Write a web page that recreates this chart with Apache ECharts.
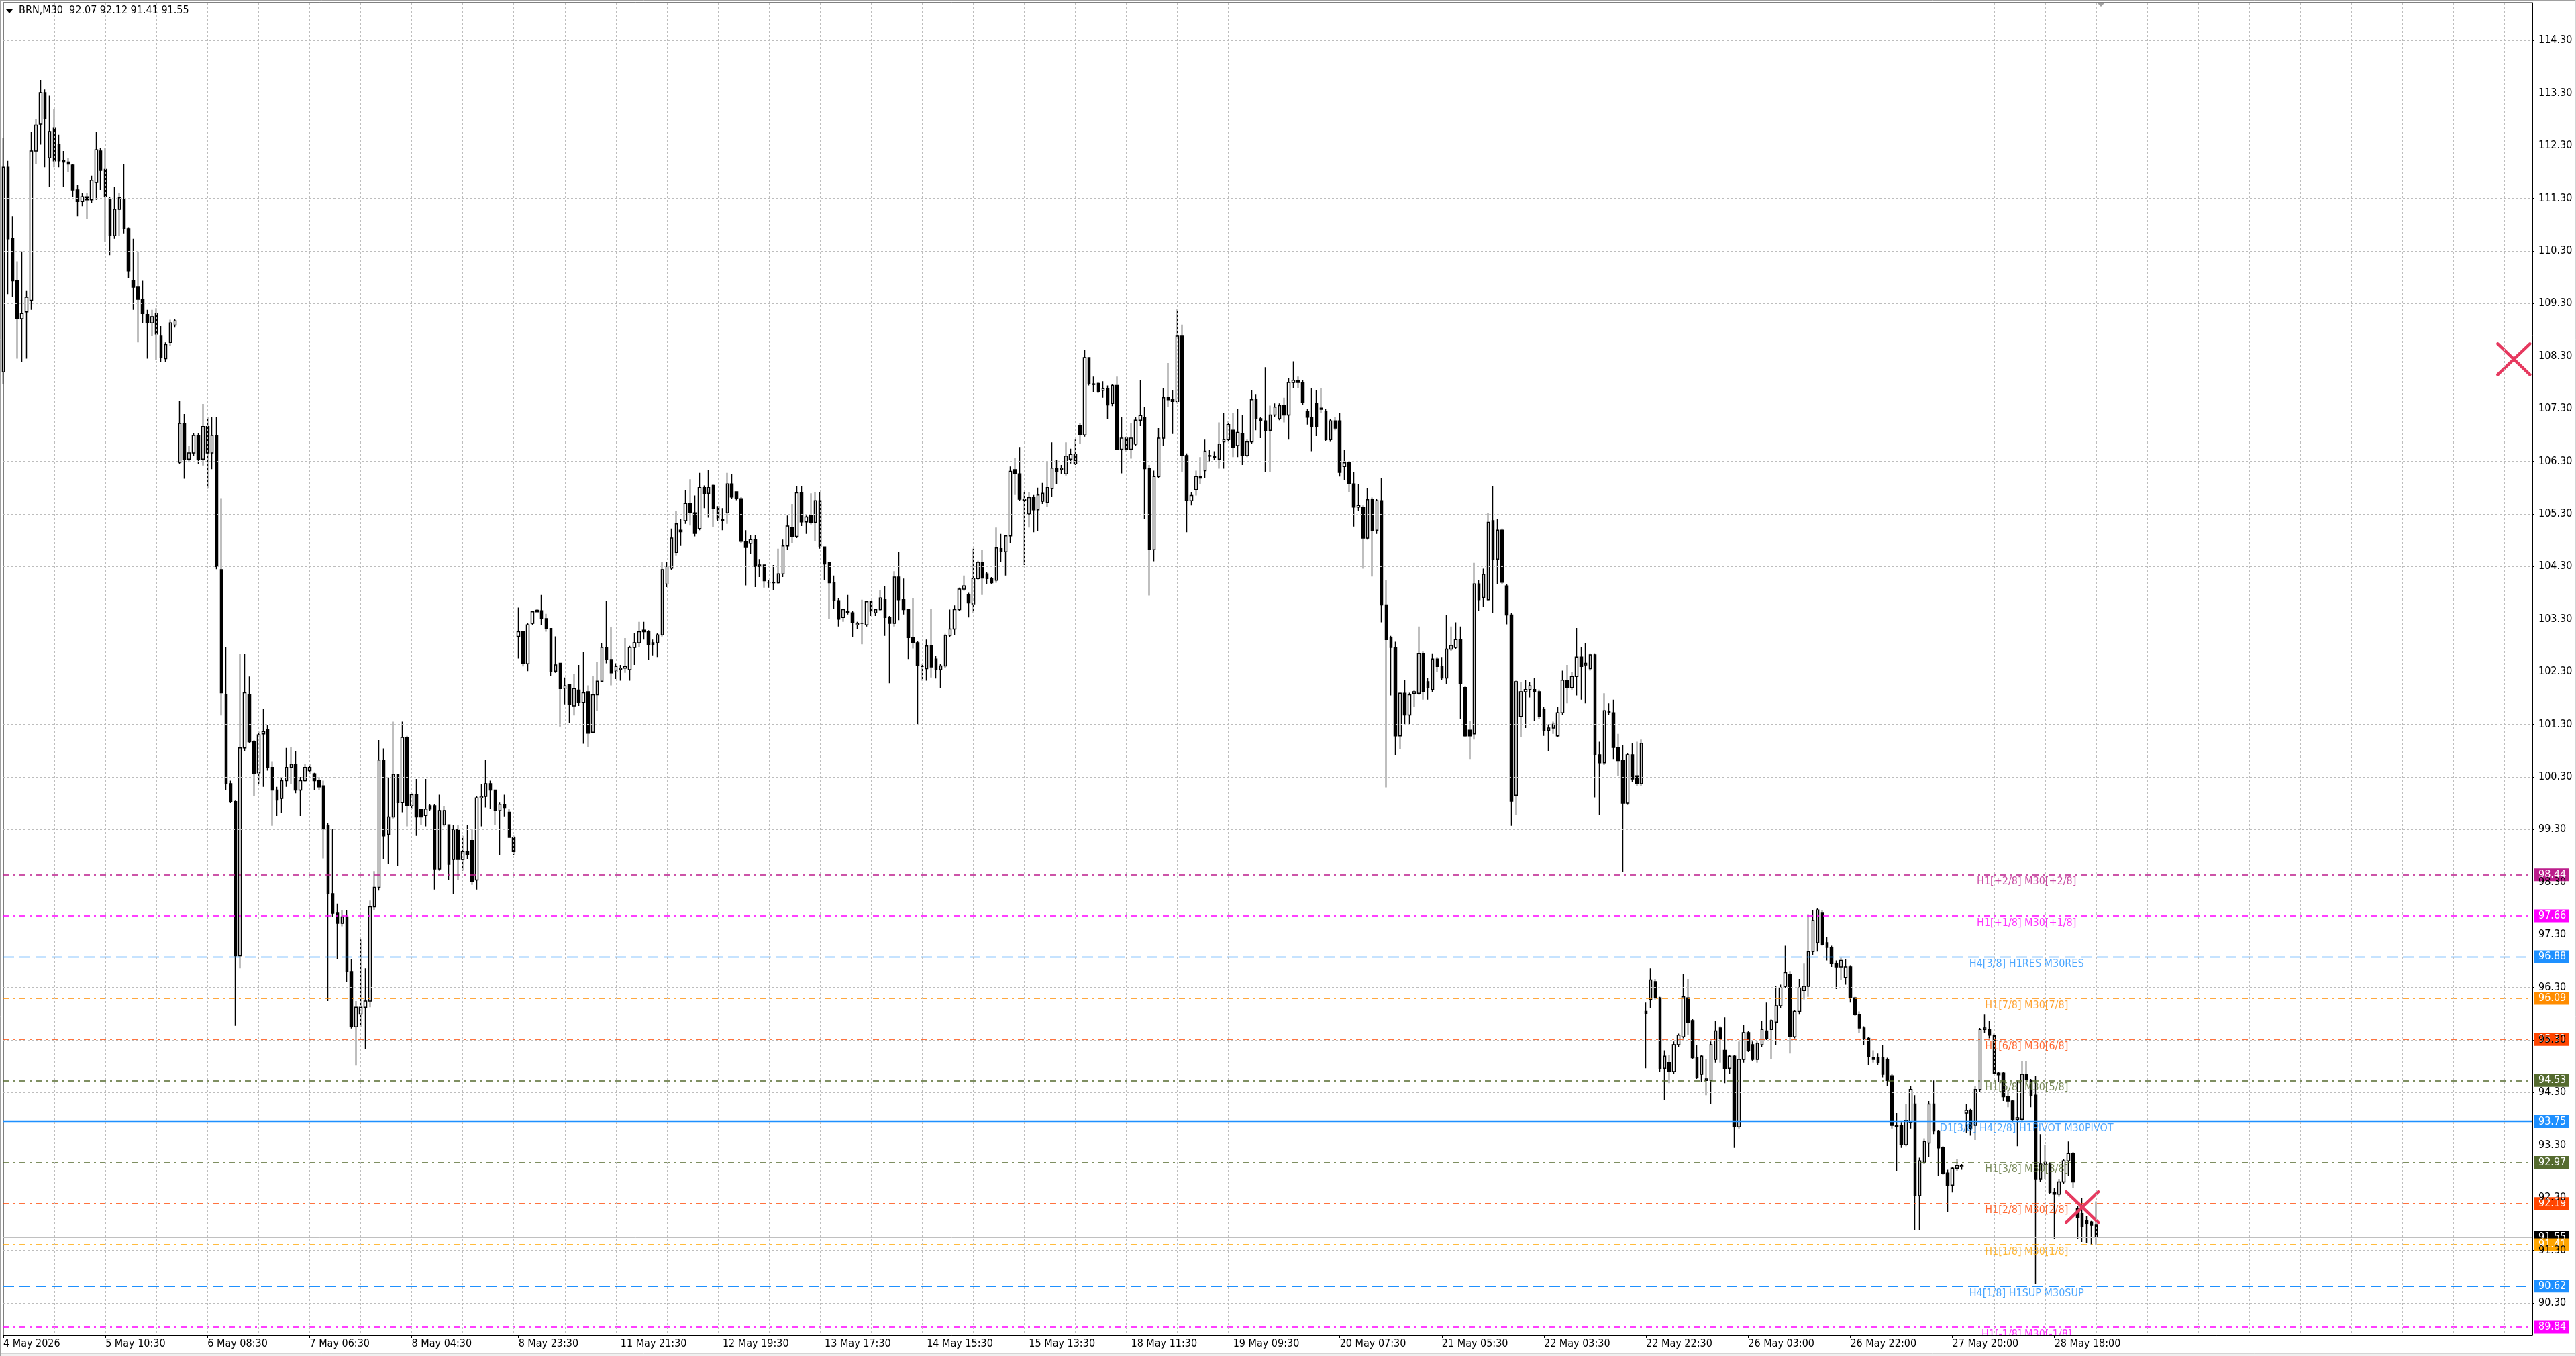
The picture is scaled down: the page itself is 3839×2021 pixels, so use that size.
<!DOCTYPE html>
<html><head><meta charset="utf-8">
<script src="https://cdn.jsdelivr.net/npm/echarts@6/dist/echarts.min.js"></script>
<style>html,body{margin:0;padding:0;background:#fff;overflow:hidden}#c{width:3839px;height:2021px}</style>
</head><body><div id="c"></div>
<script>
// ---------- data (one candle per hour) ----------
const symbolName = 'BRN,M30';
const headerOHLC = [92.07, 92.12, 91.41, 91.55];

const open = [
108.00,111.89,110.53,109.73,109.01,109.14,109.36,112.20,112.71,113.31,
112.07,112.63,112.32,112.01,111.99,111.93,111.46,111.24,111.33,111.27,
111.60,112.20,111.85,111.27,110.59,111.09,111.28,110.72,109.73,109.61,
109.38,109.09,108.93,109.11,108.68,108.25,108.56,108.89,106.28,107.02,
106.34,106.46,106.79,106.34,106.96,106.46,106.79,104.24,101.86,100.17,
99.83,96.90,100.85,101.86,100.97,100.38,101.12,101.20,100.48,100.05,
99.89,100.23,100.48,100.54,100.05,100.23,100.48,100.36,100.23,100.13,
99.37,98.08,97.71,97.52,97.64,96.60,95.55,95.79,95.92,96.04,
97.83,98.20,100.62,99.21,99.54,100.35,99.81,101.05,99.75,99.96,
99.69,99.57,99.75,99.75,98.55,99.39,99.39,98.73,99.30,98.73,
98.88,99.09,98.34,99.90,99.93,100.17,100.05,99.66,99.78,99.63,
99.15,102.97,103.06,102.45,103.22,103.44,103.46,103.31,103.12,102.31,
102.46,101.98,102.05,101.65,101.95,101.71,101.92,101.15,101.86,102.12,
102.76,102.53,102.31,102.34,102.37,102.34,102.76,102.85,103.09,103.06,
102.85,102.85,103.00,103.97,104.27,104.57,104.96,105.17,105.50,105.32,
105.02,105.80,105.69,105.84,105.44,105.20,105.32,105.87,105.72,105.59,
104.78,104.74,104.81,104.30,104.33,104.00,104.00,103.99,104.16,104.69,
105.04,104.87,105.70,105.15,105.27,105.14,105.55,104.67,104.37,103.99,
103.65,103.33,103.45,103.42,103.19,103.22,103.19,103.63,103.42,103.48,
103.67,103.33,103.22,104.10,103.67,103.48,102.95,102.85,102.40,102.36,
102.79,102.54,102.34,102.41,102.99,103.11,103.48,103.87,103.76,103.59,
104.07,104.38,104.16,104.07,104.04,104.64,104.58,104.88,106.14,106.06,
105.58,105.30,105.61,105.38,105.54,105.52,105.78,106.17,106.14,106.06,
106.34,106.43,106.98,106.80,108.27,107.76,107.78,107.65,107.68,107.40,
107.74,106.53,106.74,106.53,106.63,107.08,107.14,106.16,104.62,106.01,
106.74,107.51,107.47,107.44,108.68,106.41,105.55,105.76,106.01,106.12,
106.41,106.40,106.34,106.67,106.71,106.89,106.60,106.82,106.41,106.67,
107.47,107.11,107.07,106.89,107.18,107.11,107.36,107.18,107.80,107.84,
107.80,107.25,107.14,107.40,107.29,107.25,106.71,107.07,107.07,106.20,
106.27,105.87,105.43,105.43,104.84,105.57,104.99,105.55,103.57,102.95,
102.76,101.08,101.89,101.48,101.89,101.89,102.65,102.11,101.96,102.54,
102.40,102.18,102.73,102.76,102.91,102.00,101.19,101.12,103.97,103.71,
103.67,105.17,104.44,104.99,103.93,103.38,99.95,101.45,101.92,101.96,
101.96,101.92,101.59,101.19,101.23,101.08,101.52,102.14,102.00,102.21,
102.58,102.43,102.36,102.62,100.72,100.57,101.52,101.52,100.86,100.61,
99.80,100.72,100.32,100.17,95.84,96.07,96.41,96.10,94.76,94.87,
94.70,95.21,95.36,96.10,95.67,94.96,94.65,94.53,94.53,94.93,
95.53,95.10,94.76,94.99,93.65,94.93,95.44,95.21,94.93,95.21,
95.47,95.50,95.64,95.95,96.32,96.55,95.36,95.84,96.24,96.32,
96.98,97.15,97.71,97.15,97.06,96.75,96.69,96.49,96.69,96.10,
95.78,95.53,95.33,94.96,94.96,94.96,94.93,94.62,93.68,93.68,
93.31,93.74,94.08,92.34,92.97,93.34,94.08,93.57,93.25,92.77,
92.54,92.86,92.89,93.91,93.96,93.68,94.36,95.50,95.50,95.39,
94.67,94.67,94.22,94.14,93.79,93.79,94.65,94.53,94.25,92.66,
92.94,92.94,92.40,92.37,92.60,93.00,93.14,92.09,92.00,91.86,
91.84,91.78
];
const high = [
112.44,112.01,110.96,110.10,110.29,109.55,112.57,112.81,113.55,113.37,
113.25,113.00,112.51,112.20,112.07,111.95,111.55,111.40,111.40,111.73,
112.57,112.26,112.26,111.33,111.52,111.40,111.95,110.74,110.53,110.29,
109.73,109.18,109.18,109.21,108.87,108.56,108.99,109.01,107.45,107.20,
106.59,106.83,106.83,107.39,107.14,107.14,107.14,105.60,102.76,100.23,
99.85,102.64,102.64,102.21,101.00,101.16,101.59,101.28,100.60,100.11,
100.30,100.85,100.87,100.79,100.30,100.54,100.54,100.38,100.30,100.23,
99.43,99.31,97.89,97.77,97.77,96.84,96.04,97.21,96.66,97.95,
98.51,101.00,100.84,100.29,101.35,100.35,101.35,101.08,99.99,100.26,
99.69,100.26,99.78,99.78,99.96,99.75,99.39,99.39,99.39,99.18,
99.39,99.30,99.93,100.17,100.62,100.23,100.05,99.81,99.96,99.69,
99.18,103.52,103.06,103.22,103.46,103.49,103.76,103.40,103.12,102.97,
102.46,102.19,102.07,102.25,102.43,102.67,102.04,102.22,102.49,102.85,
103.64,103.15,102.46,102.43,102.94,102.79,103.03,103.25,103.25,103.09,
102.91,103.03,104.39,104.38,105.02,105.35,105.20,105.75,105.96,105.65,
106.08,105.84,106.14,105.87,105.44,105.41,106.08,106.05,105.72,105.62,
104.99,104.90,104.90,104.44,104.33,104.04,104.33,104.64,104.81,105.27,
105.49,105.83,105.83,105.27,105.69,105.72,105.72,104.67,104.37,104.13,
103.70,103.50,103.76,103.45,103.25,103.67,103.65,103.65,103.50,103.85,
103.93,103.36,104.21,104.58,104.07,103.50,103.70,102.88,102.45,102.91,
103.50,102.60,102.45,103.02,103.48,103.56,103.90,104.13,103.80,104.64,
104.41,104.61,104.19,104.10,105.04,104.92,104.90,106.20,106.37,106.57,
105.72,105.72,105.66,105.80,105.89,106.29,106.66,106.32,106.23,106.66,
106.54,106.71,107.03,108.42,108.28,107.91,107.80,107.82,107.74,107.77,
107.91,107.14,106.77,107.03,107.14,107.85,107.33,106.23,106.12,106.93,
107.69,108.17,107.66,109.19,108.90,106.45,105.72,106.12,106.38,106.71,
106.52,106.49,107.04,107.22,107.07,107.22,107.29,107.18,106.71,107.66,
107.58,107.14,108.09,107.36,107.40,107.40,107.51,107.88,108.20,107.91,
107.84,107.29,107.69,107.66,107.69,107.29,107.11,107.14,107.22,106.52,
106.30,106.09,105.87,105.46,105.79,105.61,105.59,105.98,104.04,102.98,
102.87,101.92,102.14,101.90,101.95,103.16,102.68,102.18,102.65,102.58,
102.58,103.38,103.16,103.24,103.16,102.03,101.37,104.37,104.04,104.26,
105.32,105.83,105.21,105.02,103.97,103.41,102.14,102.11,102.14,102.11,
102.18,101.96,101.63,101.30,101.35,101.63,102.32,102.43,102.29,103.13,
102.76,102.84,102.65,102.65,100.97,101.89,101.70,101.77,101.12,100.90,
100.75,100.94,100.97,101.01,96.01,96.66,96.46,96.12,95.10,95.02,
95.27,95.42,96.55,96.46,95.70,95.21,95.02,94.93,95.27,95.67,
95.56,95.73,95.02,95.02,95.27,95.58,95.47,95.27,95.27,95.67,
96.01,95.70,96.32,96.35,97.09,96.61,95.87,96.46,96.75,97.69,
97.77,97.80,97.77,97.26,97.09,96.81,96.86,96.83,96.72,96.12,
95.84,95.56,95.36,95.10,95.04,95.21,94.96,94.65,93.91,93.74,
94.08,94.42,94.25,93.06,93.43,94.14,94.53,93.59,93.28,92.83,
92.89,93.03,92.94,94.08,93.99,94.42,95.53,95.78,95.67,95.42,
94.70,94.70,94.34,94.16,94.53,94.90,94.90,94.56,94.62,93.51,
93.31,92.97,92.49,92.66,93.03,93.37,93.17,92.15,92.29,91.95,
91.86,92.23
];
const low = [
107.76,109.48,109.42,108.25,108.19,108.25,109.18,111.95,112.32,111.89,
111.52,111.89,111.89,111.52,111.80,111.33,110.96,111.15,110.90,111.21,
111.27,111.46,110.47,110.22,110.53,110.59,110.62,109.79,109.18,108.56,
108.93,108.25,108.68,108.23,108.19,108.18,108.50,108.84,106.25,105.97,
106.28,106.40,106.25,106.22,105.78,106.15,104.25,101.47,100.05,99.80,
95.57,96.66,100.79,100.95,99.93,100.17,100.11,100.42,99.37,99.56,
99.62,100.11,100.17,99.99,99.56,100.21,100.36,100.05,100.05,98.75,
96.04,97.64,96.84,97.46,96.41,95.52,94.81,95.55,95.12,95.92,
97.77,98.14,98.73,98.64,99.51,98.61,99.63,99.36,99.69,99.18,
99.39,99.36,99.66,98.16,98.52,99.36,98.34,98.07,98.34,98.52,
98.73,98.25,98.16,99.36,99.72,99.69,99.39,98.82,99.55,99.15,
98.82,102.55,102.40,102.31,103.19,103.43,103.19,103.06,102.22,102.28,
101.26,101.68,101.32,101.47,101.65,100.93,100.87,101.13,101.56,102.10,
102.46,102.04,102.16,102.13,102.28,102.13,102.43,102.76,102.91,102.52,
102.61,102.58,102.97,103.91,104.24,104.51,104.69,105.11,105.08,104.87,
104.99,105.41,105.23,105.05,105.17,104.99,105.11,105.59,105.56,104.75,
103.94,104.54,103.91,104.10,103.90,103.90,103.85,103.96,104.10,104.61,
104.75,104.84,105.07,104.92,105.10,104.78,104.64,104.04,103.30,103.50,
103.16,103.25,103.39,102.96,103.11,102.82,103.16,103.36,103.36,103.46,
102.98,102.08,103.16,103.28,103.39,102.54,102.74,101.30,102.13,102.13,
102.19,102.17,101.99,102.37,102.96,102.99,103.45,103.84,103.33,103.42,
104.04,103.76,103.96,103.96,103.99,104.38,104.13,104.75,105.66,105.55,
104.33,105.04,104.95,104.98,105.49,105.44,105.63,105.86,106.06,106.03,
106.26,106.23,106.63,106.77,107.74,107.62,107.60,107.51,107.10,107.35,
106.52,106.07,106.48,106.35,106.60,106.97,105.21,103.75,104.40,105.98,
106.60,107.33,106.82,107.40,106.09,104.95,105.46,105.65,105.87,105.98,
106.30,106.32,106.16,106.16,106.67,106.38,106.38,106.23,106.38,106.63,
106.89,106.74,106.09,106.09,107.14,107.08,107.04,106.71,107.69,107.69,
107.37,107.00,106.49,106.78,107.22,106.68,106.67,106.89,106.01,105.94,
105.72,105.06,105.36,104.26,104.81,104.11,104.92,103.24,100.10,101.85,
100.72,100.83,101.30,101.30,101.63,101.86,101.77,101.77,101.92,102.29,
102.14,102.07,102.69,102.73,101.41,101.05,100.64,101.01,103.46,103.53,
103.64,103.42,103.97,103.97,103.20,99.37,99.58,101.05,101.23,101.81,
101.37,101.41,101.08,100.79,101.12,101.05,101.48,101.70,101.96,101.85,
101.77,101.70,102.32,99.91,99.58,100.53,101.48,100.64,100.32,98.49,
99.77,100.21,100.13,100.13,94.76,95.90,96.07,94.70,94.16,94.48,
94.65,95.16,95.33,95.39,94.93,94.56,94.50,94.25,94.08,94.87,
94.87,94.48,94.65,93.25,93.62,94.87,95.07,94.90,94.87,95.16,
95.30,94.93,95.21,95.90,96.29,95.04,95.33,95.78,96.07,96.12,
96.92,96.98,97.09,96.81,96.69,96.27,96.44,96.35,96.01,95.75,
95.44,95.21,94.82,94.87,94.82,94.59,94.42,93.62,92.80,93.25,
93.28,93.62,91.69,91.69,92.94,93.08,93.51,92.71,92.74,92.03,
92.40,92.80,92.83,93.54,93.48,93.40,94.31,95.44,95.33,94.65,
94.50,94.14,94.02,93.74,93.28,93.74,94.50,94.02,90.67,92.60,
92.66,92.37,91.52,92.32,92.57,92.71,92.49,91.52,91.46,91.44,
91.41,91.41
];
const close = [
111.89,110.53,109.73,109.01,109.11,109.42,112.20,112.69,113.31,112.81,
112.57,112.01,112.01,111.99,111.95,111.46,111.24,111.33,111.27,111.64,
112.22,111.83,111.33,110.59,111.09,111.31,110.72,109.92,109.61,109.38,
109.11,108.93,109.05,108.72,108.27,108.52,108.93,108.97,107.02,106.34,
106.46,106.79,106.34,106.96,106.46,106.79,104.30,101.90,100.17,99.83,
96.90,100.85,101.90,100.97,100.36,101.10,101.16,100.48,100.05,99.86,
100.23,100.48,100.54,100.05,100.23,100.48,100.42,100.23,100.11,99.31,
98.08,97.71,97.52,97.64,96.60,95.55,95.92,95.92,96.04,97.83,
98.20,100.62,99.18,99.54,100.35,99.81,101.05,99.75,99.96,99.54,
99.54,99.69,99.69,98.55,99.66,99.66,98.64,99.30,98.73,98.88,
98.82,98.31,99.90,99.93,100.17,100.05,99.66,99.78,99.72,99.15,
98.88,103.06,102.45,103.19,103.44,103.47,103.31,103.12,102.31,102.43,
101.98,102.03,101.68,101.98,101.71,101.90,101.13,101.86,102.12,102.76,
102.53,102.28,102.40,102.37,102.40,102.76,102.85,103.06,103.06,102.82,
102.82,103.00,104.24,104.30,104.84,105.11,104.99,105.50,105.32,104.93,
105.80,105.69,105.80,105.41,105.20,105.17,105.87,105.62,105.59,104.78,
104.66,104.81,104.30,104.33,104.03,103.99,103.99,104.16,104.69,105.07,
104.87,105.70,105.15,105.24,105.14,105.55,104.68,104.35,103.99,103.65,
103.30,103.48,103.42,103.23,103.22,103.22,103.63,103.45,103.48,103.70,
103.33,103.22,104.10,103.67,103.48,102.95,102.85,102.42,102.40,102.79,
102.39,102.34,102.41,102.99,103.11,103.48,103.87,103.93,103.61,104.07,
104.38,104.08,104.07,103.99,104.65,104.58,104.88,106.11,106.06,105.58,
105.55,105.61,105.38,105.66,105.69,105.80,106.17,106.11,106.17,106.40,
106.43,106.26,106.80,108.27,107.77,107.77,107.63,107.68,107.37,107.74,
106.53,106.74,106.53,106.74,107.08,107.17,106.16,104.62,106.01,106.74,
107.51,107.47,107.44,108.68,106.41,105.55,105.65,106.01,105.98,106.49,
106.40,106.38,106.63,106.71,107.00,106.56,106.85,106.41,106.67,107.47,
107.11,107.07,106.89,107.18,107.33,107.36,107.18,107.80,107.84,107.80,
107.42,107.14,106.96,106.96,107.31,106.71,107.07,106.93,106.09,106.27,
105.87,105.43,105.46,104.84,105.57,104.99,105.55,103.57,102.91,102.76,
101.08,101.89,101.48,101.86,101.92,102.65,101.92,102.00,102.54,102.40,
102.18,102.73,102.80,102.91,102.07,101.08,101.08,103.97,103.67,104.15,
105.14,104.44,104.99,104.00,103.38,99.84,102.11,101.92,101.96,102.03,
101.92,101.45,101.19,101.23,101.30,101.52,102.14,102.00,102.21,102.58,
102.40,102.46,102.62,100.72,100.57,101.56,101.54,100.86,100.61,99.80,
100.72,100.26,100.17,100.94,95.80,96.44,96.10,94.76,94.99,94.70,
95.21,95.39,96.12,95.64,94.96,94.59,94.99,94.56,95.21,95.47,
95.33,94.76,94.99,93.65,94.93,95.44,95.10,94.93,95.24,95.50,
95.33,95.67,95.95,96.29,96.58,95.36,95.84,96.29,96.32,96.98,
97.57,97.77,97.12,97.06,96.75,96.69,96.81,96.69,96.10,95.78,
95.53,95.33,94.99,94.93,94.87,94.65,94.53,93.68,93.66,93.31,
93.77,94.36,92.34,93.00,93.37,94.08,93.57,93.25,92.77,92.54,
92.86,92.91,92.91,93.96,93.62,94.36,95.50,95.53,95.39,94.67,
94.64,94.22,94.14,93.79,93.82,94.65,94.55,94.25,92.66,92.94,
92.97,92.40,92.37,92.60,93.00,93.14,92.60,91.92,91.75,91.81,
91.78,91.55
];

// time axis: 546 hourly slots (data + right-hand shift space)
const slotCount = 546;
const tickIdx = [0,22,44,66,88,111,133,155,177,199,221,243,265,288,310,332,354,376,398,420,442];
const tickLabels = ['4 May 2026','5 May 10:30','6 May 08:30','7 May 06:30','8 May 04:30','8 May 23:30',
  '11 May 21:30','12 May 19:30','13 May 17:30','14 May 15:30','15 May 13:30','18 May 11:30',
  '19 May 09:30','20 May 07:30','21 May 05:30','22 May 03:30','22 May 22:30','26 May 03:00',
  '26 May 22:00','27 May 20:00','28 May 18:00'];
const gridEvery = 11;

// price axis
const priceMin = 89.687, priceMax = 115.018;
const priceTicks = [90.3,91.3,92.3,93.3,94.3,95.3,96.3,97.3,98.3,99.3,100.3,101.3,102.3,
  103.3,104.3,105.3,106.3,107.3,108.3,109.3,110.3,111.3,112.3,113.3,114.3];

// Murrey-style levels
const levels = [98.44, 97.66, 96.88, 96.09, 95.31, 94.53, 93.75, 92.97, 92.19, 91.41, 90.62, 89.84];
const levelNames = ['H1[+2/8] M30[+2/8]','H1[+1/8] M30[+1/8]','H4[3/8] H1RES M30RES','H1[7/8] M30[7/8]',
  'H1[6/8] M30[6/8]','H1[5/8] M30[5/8]','D1[3/8] H4[2/8] H1PIVOT M30PIVOT','H1[3/8] M30[3/8]',
  'H1[2/8] M30[2/8]','H1[1/8] M30[1/8]','H4[1/8] H1SUP M30SUP','H1[-1/8] M30[-1/8]'];
const levelColors = ['#BC1E8C','#FF00FF','#1E90FF','#FF8C00','#FF4500','#556B2F','#1E90FF','#556B2F',
  '#FF4500','#FFA500','#1E90FF','#FF00FF'];
const levelKinds = ['dashdot','dashdot','dash','dashdot','dashdot','dashdot','solid','dashdot',
  'dashdot','dashdot','dash2','dashdot'];
const levelLabelBar = 436;
const lastPrice = 91.55;
const crossMarks = [[448, 92.12], [541, 108.24]];

// ---------- chart ----------
const FONT = '"DejaVu Sans Condensed", "DejaVu Sans", sans-serif';
const categories = Array.from({length: slotCount}, (_, i) => String(i));
const candleData = open.map((o, i) => [o, close[i], low[i], high[i]]);
const tickMap = new Map(tickIdx.map((b, k) => [b, tickLabels[k]]));

function lineTypeOf(kind) {
  if (kind === 'dashdot') return { type: [9, 6, 3, 6], width: 1.5 };
  if (kind === 'dash') return { type: [16, 8], width: 1.4 };
  if (kind === 'dash2') return { type: [16, 8], width: 2 };
  return { type: 'solid', width: 1.3 };
}
function boxLabel(val, bg) {
  return { show: true, position: 'end', distance: 2, formatter: val.toFixed(2),
    backgroundColor: bg, color: '#fff', padding: [2, 4, 1, 7], fontFamily: FONT, fontSize: 16, lineHeight: 16 };
}
const markData = [{ yAxis: lastPrice, lineStyle: { color: '#C0C0C0', type: 'solid', width: 1 }, label: boxLabel(lastPrice, '#000') }];
levels.forEach((lv, i) => {
  const ls = lineTypeOf(levelKinds[i]);
  markData.push({ yAxis: lv, lineStyle: { color: levelColors[i], type: ls.type, width: ls.width }, label: boxLabel(lv, levelColors[i]) });
});

const chart = echarts.init(document.getElementById('c'), null, { renderer: 'canvas', width: 3839, height: 2021 });
chart.setOption({
  animation: false,
  backgroundColor: '#ffffff',
  grid: { left: 5, top: 4, width: 3769, height: 1986, show: true, borderColor: '#000', borderWidth: 1, backgroundColor: '#fff' },
  xAxis: {
    type: 'category', data: categories, boundaryGap: false, z: 10,
    axisLine: { show: true, lineStyle: { color: '#000', width: 1 } },
    axisTick: { show: true, length: 4, interval: (i) => tickMap.has(i), lineStyle: { color: '#000' } },
    axisLabel: { show: true, interval: (i) => tickMap.has(i), formatter: (v, i) => tickMap.get(i) || '',
      align: 'left', margin: 5, color: '#000', fontFamily: FONT, fontSize: 16 },
    splitLine: { show: true, interval: (i) => i > 0 && i % gridEvery === 0, lineStyle: { color: '#BDBDBD', type: [3, 3], width: 1 } }
  },
  yAxis: {
    type: 'value', position: 'right', min: priceMin, max: priceMax, z: 10,
    axisLine: { show: true, lineStyle: { color: '#000' } },
    axisTick: { show: true, length: 3, customValues: priceTicks, lineStyle: { color: '#000' } },
    axisLabel: { show: true, customValues: priceTicks, formatter: (v) => Number(v).toFixed(2), margin: 9,
      color: '#000', fontFamily: FONT, fontSize: 16 },
    splitLine: { show: true, lineStyle: { color: '#BDBDBD', type: [3, 3], width: 1 } }
  },
  series: [
    {
      type: 'candlestick', data: candleData, barWidth: 4, clip: false, silent: true,
      itemStyle: { color: '#ffffff', color0: '#000000', borderColor: '#000000', borderColor0: '#000000', borderWidth: 1.5 },
      markLine: { silent: true, symbol: ['none', 'none'], animation: false, data: markData }
    },
    {
      type: 'scatter', silent: true, clip: false, symbolSize: 0,
      data: levels.map((lv, i) => ({ value: [levelLabelBar, lv], label: { color: levelColors[i] } })),
      label: { show: true, position: 'bottom', distance: 2, formatter: (p) => levelNames[p.dataIndex],
        fontFamily: FONT, fontSize: 16, lineHeight: 17 }
    },
    {
      type: 'custom', silent: true, clip: false, z: 6, data: crossMarks,
      encode: { x: 0, y: 1 },
      renderItem: (params, api) => {
        const p = api.coord([api.value(0), api.value(1)]);
        const dx = 24, dy = 23;
        const st = { stroke: '#E6395F', lineWidth: 4.5, lineCap: 'round' };
        return { type: 'group', children: [
          { type: 'line', shape: { x1: p[0] - dx, y1: p[1] - dy, x2: p[0] + dx, y2: p[1] + dy }, style: st },
          { type: 'line', shape: { x1: p[0] - dx, y1: p[1] + dy, x2: p[0] + dx, y2: p[1] - dy }, style: st }
        ] };
      }
    }
  ],
  graphic: [
    { type: 'rect', z: 5, silent: true, shape: { x: 0, y: 1991, width: 3775, height: 27 }, style: { fill: '#fff' } },
    { type: 'rect', z: 5, silent: true, shape: { x: 0, y: 2018, width: 3839, height: 3 }, style: { fill: '#F0F0F0' } },
    { type: 'line', z: 5, silent: true, shape: { x1: 0, y1: 2017.5, x2: 3839, y2: 2017.5 }, style: { stroke: '#D4D4D4', lineWidth: 1 } },
    { type: 'line', z: 5, silent: true, shape: { x1: 0, y1: 0.5, x2: 3839, y2: 0.5 }, style: { stroke: '#A0A0A0', lineWidth: 1 } },
    { type: 'line', z: 5, silent: true, shape: { x1: 0.5, y1: 0, x2: 0.5, y2: 2021 }, style: { stroke: '#A0A0A0', lineWidth: 1 } },
    { type: 'line', z: 5, silent: true, shape: { x1: 3838.5, y1: 0, x2: 3838.5, y2: 2021 }, style: { stroke: '#D4D4D4', lineWidth: 1 } },
    { type: 'polygon', z: 5, silent: true, shape: { points: [[3126, 5], [3136, 5], [3131, 10]] }, style: { fill: '#A0A0A0' } },
    { type: 'polygon', z: 12, silent: true, shape: { points: [[9, 14], [19, 14], [14, 20]] }, style: { fill: '#000' } },
    { type: 'text', z: 12, silent: true, left: 28, top: 8,
      style: { text: symbolName + '  ' + headerOHLC.map(v => v.toFixed(2)).join(' '), fill: '#000', font: '16px ' + FONT } }
  ]
});
</script>
</body></html>
